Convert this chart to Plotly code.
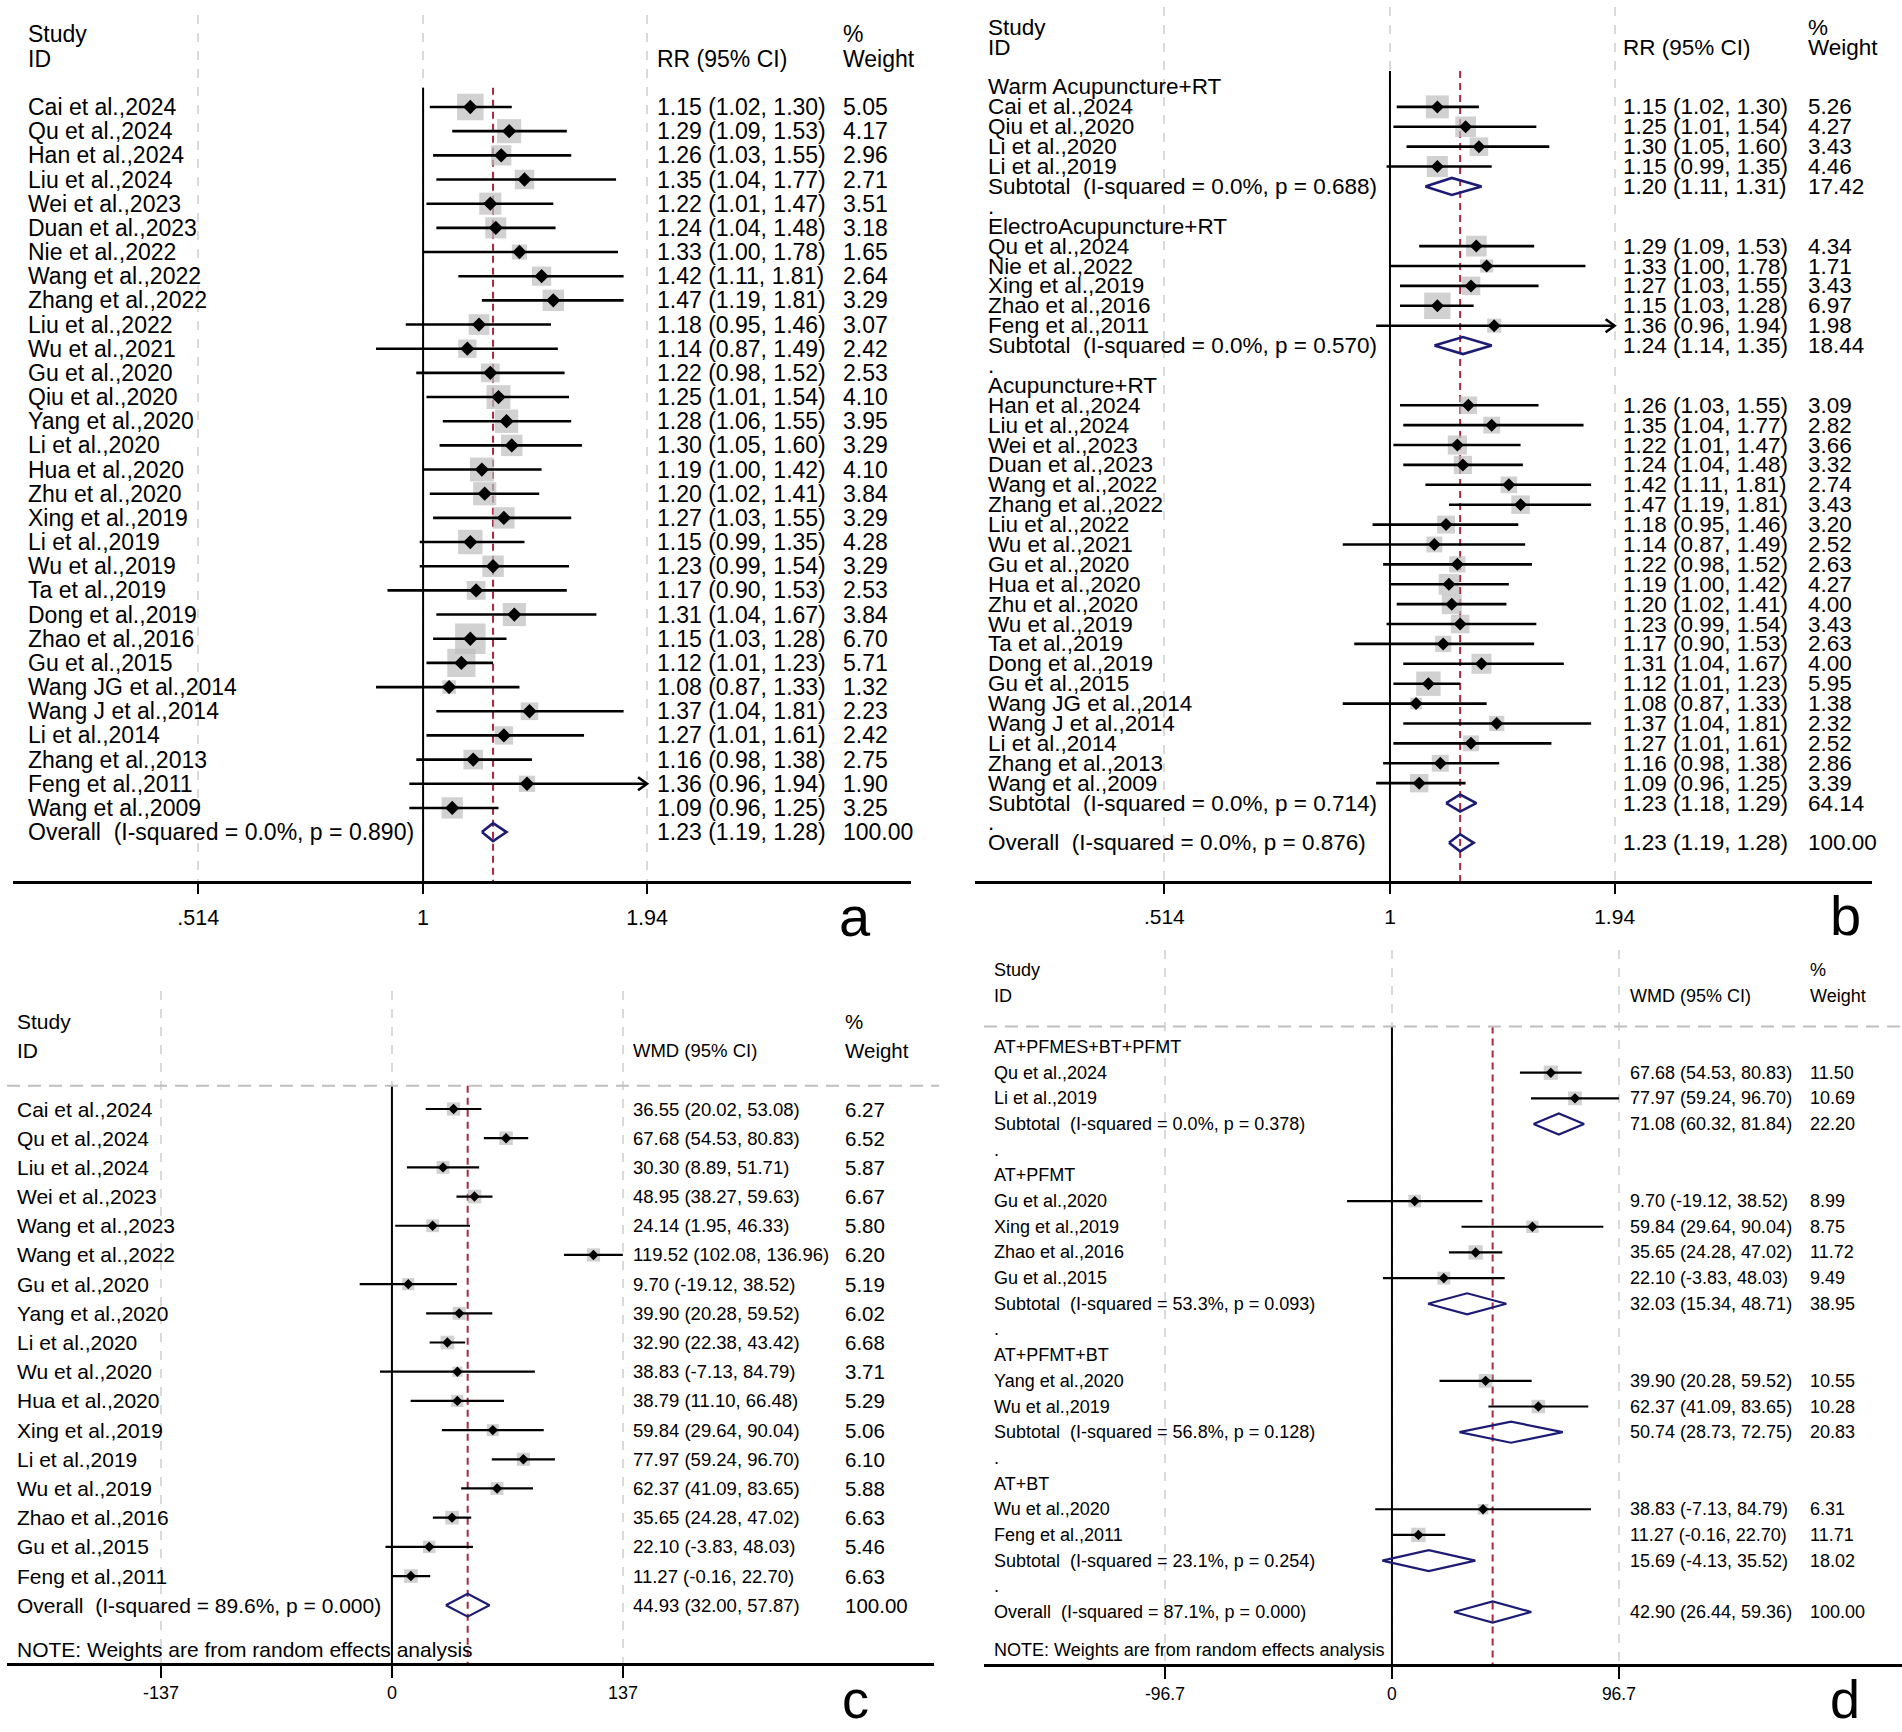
import numpy as np
import plotly.graph_objects as go

FONT = "Liberation Sans, Arial, Helvetica, sans-serif"
W, H = 1902, 1732
BOX = "#bdbdbd"
NAVY = "#1c1c74"
RED = "#a8283c"
GRID = "#dadada"

# ---- a: all trials, response rate (RR) ----
a_names = ["Cai et al.,2024", "Qu et al.,2024", "Han et al.,2024", "Liu et al.,2024",
           "Wei et al.,2023", "Duan et al.,2023", "Nie et al.,2022", "Wang et al.,2022",
           "Zhang et al.,2022", "Liu et al.,2022", "Wu et al.,2021", "Gu et al.,2020",
           "Qiu et al.,2020", "Yang et al.,2020", "Li et al.,2020", "Hua et al.,2020",
           "Zhu et al.,2020", "Xing et al.,2019", "Li et al.,2019", "Wu et al.,2019",
           "Ta et al.,2019", "Dong et al.,2019", "Zhao et al.,2016", "Gu et al.,2015",
           "Wang JG et al.,2014", "Wang J et al.,2014", "Li et al.,2014", "Zhang et al.,2013",
           "Feng et al.,2011", "Wang et al.,2009"]
a_rr = [1.15, 1.29, 1.26, 1.35, 1.22, 1.24, 1.33, 1.42, 1.47, 1.18, 1.14, 1.22, 1.25, 1.28, 1.30,
        1.19, 1.20, 1.27, 1.15, 1.23, 1.17, 1.31, 1.15, 1.12, 1.08, 1.37, 1.27, 1.16, 1.36, 1.09]
a_lo = [1.02, 1.09, 1.03, 1.04, 1.01, 1.04, 1.00, 1.11, 1.19, 0.95, 0.87, 0.98, 1.01, 1.06, 1.05,
        1.00, 1.02, 1.03, 0.99, 0.99, 0.90, 1.04, 1.03, 1.01, 0.87, 1.04, 1.01, 0.98, 0.96, 0.96]
a_hi = [1.30, 1.53, 1.55, 1.77, 1.47, 1.48, 1.78, 1.81, 1.81, 1.46, 1.49, 1.52, 1.54, 1.55, 1.60,
        1.42, 1.41, 1.55, 1.35, 1.54, 1.53, 1.67, 1.28, 1.23, 1.33, 1.81, 1.61, 1.38, 1.94, 1.25]
a_wt = [5.05, 4.17, 2.96, 2.71, 3.51, 3.18, 1.65, 2.64, 3.29, 3.07, 2.42, 2.53, 4.10, 3.95, 3.29,
        4.10, 3.84, 3.29, 4.28, 3.29, 2.53, 3.84, 6.70, 5.71, 1.32, 2.23, 2.42, 2.75, 1.90, 3.25]
a_overall = [1.23, 1.19, 1.28, 100.00]
a_overall_het = "0.0%, p = 0.890"

# ---- b: RR by acupuncture type ----
b_groups = ["Warm Acupuncture+RT", "ElectroAcupuncture+RT", "Acupuncture+RT"]
b_names = [
    ["Cai et al.,2024", "Qiu et al.,2020", "Li et al.,2020", "Li et al.,2019"],
    ["Qu et al.,2024", "Nie et al.,2022", "Xing et al.,2019", "Zhao et al.,2016", "Feng et al.,2011"],
    ["Han et al.,2024", "Liu et al.,2024", "Wei et al.,2023", "Duan et al.,2023", "Wang et al.,2022",
     "Zhang et al.,2022", "Liu et al.,2022", "Wu et al.,2021", "Gu et al.,2020", "Hua et al.,2020",
     "Zhu et al.,2020", "Wu et al.,2019", "Ta et al.,2019", "Dong et al.,2019", "Gu et al.,2015",
     "Wang JG et al.,2014", "Wang J et al.,2014", "Li et al.,2014", "Zhang et al.,2013",
     "Wang et al.,2009"],
]
b_rr = [[1.15, 1.25, 1.30, 1.15],
        [1.29, 1.33, 1.27, 1.15, 1.36],
        [1.26, 1.35, 1.22, 1.24, 1.42, 1.47, 1.18, 1.14, 1.22, 1.19,
         1.20, 1.23, 1.17, 1.31, 1.12, 1.08, 1.37, 1.27, 1.16, 1.09]]
b_lo = [[1.02, 1.01, 1.05, 0.99],
        [1.09, 1.00, 1.03, 1.03, 0.96],
        [1.03, 1.04, 1.01, 1.04, 1.11, 1.19, 0.95, 0.87, 0.98, 1.00,
         1.02, 0.99, 0.90, 1.04, 1.01, 0.87, 1.04, 1.01, 0.98, 0.96]]
b_hi = [[1.30, 1.54, 1.60, 1.35],
        [1.53, 1.78, 1.55, 1.28, 1.94],
        [1.55, 1.77, 1.47, 1.48, 1.81, 1.81, 1.46, 1.49, 1.52, 1.42,
         1.41, 1.54, 1.53, 1.67, 1.23, 1.33, 1.81, 1.61, 1.38, 1.25]]
b_wt = [[5.26, 4.27, 3.43, 4.46],
        [4.34, 1.71, 3.43, 6.97, 1.98],
        [3.09, 2.82, 3.66, 3.32, 2.74, 3.43, 3.20, 2.52, 2.63, 4.27,
         4.00, 3.43, 2.63, 4.00, 5.95, 1.38, 2.32, 2.52, 2.86, 3.39]]
b_sub_het = ["0.0%, p = 0.688", "0.0%, p = 0.570", "0.0%, p = 0.714"]
b_sub = [[1.20, 1.11, 1.31, 17.42], [1.24, 1.14, 1.35, 18.44], [1.23, 1.18, 1.29, 64.14]]
b_overall = [1.23, 1.19, 1.28, 100.00]
b_overall_het = "0.0%, p = 0.876"

# ---- c: all trials, WMD ----
c_names = ["Cai et al.,2024", "Qu et al.,2024", "Liu et al.,2024", "Wei et al.,2023",
           "Wang et al.,2023", "Wang et al.,2022", "Gu et al.,2020", "Yang et al.,2020",
           "Li et al.,2020", "Wu et al.,2020", "Hua et al.,2020", "Xing et al.,2019",
           "Li et al.,2019", "Wu et al.,2019", "Zhao et al.,2016", "Gu et al.,2015",
           "Feng et al.,2011"]
c_wmd = [36.55, 67.68, 30.30, 48.95, 24.14, 119.52, 9.70, 39.90, 32.90, 38.83, 38.79, 59.84,
         77.97, 62.37, 35.65, 22.10, 11.27]
c_lo = [20.02, 54.53, 8.89, 38.27, 1.95, 102.08, -19.12, 20.28, 22.38, -7.13, 11.10, 29.64,
        59.24, 41.09, 24.28, -3.83, -0.16]
c_hi = [53.08, 80.83, 51.71, 59.63, 46.33, 136.96, 38.52, 59.52, 43.42, 84.79, 66.48, 90.04,
        96.70, 83.65, 47.02, 48.03, 22.70]
c_wt = [6.27, 6.52, 5.87, 6.67, 5.80, 6.20, 5.19, 6.02, 6.68, 3.71, 5.29, 5.06, 6.10, 5.88,
        6.63, 5.46, 6.63]
c_overall = [44.93, 32.00, 57.87, 100.00]
c_overall_het = "89.6%, p = 0.000"

# ---- d: WMD by combined therapy ----
d_groups = ["AT+PFMES+BT+PFMT", "AT+PFMT", "AT+PFMT+BT", "AT+BT"]
d_names = [["Qu et al.,2024", "Li et al.,2019"],
           ["Gu et al.,2020", "Xing et al.,2019", "Zhao et al.,2016", "Gu et al.,2015"],
           ["Yang et al.,2020", "Wu et al.,2019"],
           ["Wu et al.,2020", "Feng et al.,2011"]]
d_wmd = [[67.68, 77.97], [9.70, 59.84, 35.65, 22.10], [39.90, 62.37], [38.83, 11.27]]
d_lo = [[54.53, 59.24], [-19.12, 29.64, 24.28, -3.83], [20.28, 41.09], [-7.13, -0.16]]
d_hi = [[80.83, 96.70], [38.52, 90.04, 47.02, 48.03], [59.52, 83.65], [84.79, 22.70]]
d_wt = [[11.50, 10.69], [8.99, 8.75, 11.72, 9.49], [10.55, 10.28], [6.31, 11.71]]
d_sub_het = ["0.0%, p = 0.378", "53.3%, p = 0.093", "56.8%, p = 0.128", "23.1%, p = 0.254"]
d_sub = [[71.08, 60.32, 81.84, 22.20], [32.03, 15.34, 48.71, 38.95],
         [50.74, 28.73, 72.75, 20.83], [15.69, -4.13, 35.52, 18.02]]
d_overall = [42.90, 26.44, 59.36, 100.00]
d_overall_het = "87.1%, p = 0.000"


def study_rows(names, est, lo, hi, wt):
    return [dict(kind="study", label=n, est=e, lo=l, hi=h, wt=w)
            for n, e, l, h, w in zip(names, est, lo, hi, wt)]


def pooled_row(label, vals):
    e, l, h, w = vals
    return dict(kind="pooled", label=label, est=e, lo=l, hi=h, wt=w)


def grouped_rows(groups, names, est, lo, hi, wt, het, sub):
    rows = []
    for k, g in enumerate(groups):
        rows.append(dict(kind="head", label=g))
        rows += study_rows(names[k], est[k], lo[k], hi[k], wt[k])
        rows.append(pooled_row(f"Subtotal  (I-squared = {het[k]})", sub[k]))
        rows.append(dict(kind="head", label="."))
    return rows


rows_a = study_rows(a_names, a_rr, a_lo, a_hi, a_wt)
rows_a.append(pooled_row(f"Overall  (I-squared = {a_overall_het})", a_overall))
rows_b = grouped_rows(b_groups, b_names, b_rr, b_lo, b_hi, b_wt, b_sub_het, b_sub)
rows_b.append(pooled_row(f"Overall  (I-squared = {b_overall_het})", b_overall))
rows_c = study_rows(c_names, c_wmd, c_lo, c_hi, c_wt)
rows_c.append(pooled_row(f"Overall  (I-squared = {c_overall_het})", c_overall))
rows_d = grouped_rows(d_groups, d_names, d_wmd, d_lo, d_hi, d_wt, d_sub_het, d_sub)
rows_d.append(pooled_row(f"Overall  (I-squared = {d_overall_het})", d_overall))

# layout of each panel in pixels of the 1902x1732 page
panels = [
    dict(rows=rows_a, n="", letter="a", log=True, null=1, xspan=(13, 911), xrange=[-0.527, 0.627],
         ypx=(15, 881, 107, 24.17), tickvals=[0.514, 1, 1.94], ticktext=[".514", "1", "1.94"],
         cols=(27, 656, 842), fs=(23, 23, 23), tick_fs=21.5, ticklen=10, standoff=5,
         effect="RR (95% CI)", box_k=11.8, pt=11, lw=2.6, dh=0.37, clip=1.94,
         sep=False, note=False, letter_xy=(855, 916), letter_fs=56),
    dict(rows=rows_b, n="2", letter="b", log=True, null=1, xspan=(975, 1872), xrange=[-0.5316, 0.6175],
         ypx=(7, 881, 87, 19.89), tickvals=[0.514, 1, 1.94], ticktext=[".514", "1", "1.94"],
         cols=(987, 1622, 1807), fs=(22.5, 22.5, 22.5), tick_fs=21, ticklen=10, standoff=5,
         effect="RR (95% CI)", box_k=10.0, pt=10, lw=2.6, dh=0.43, clip=1.94,
         sep=False, note=False, letter_xy=(1845, 915), letter_fs=56),
    dict(rows=rows_c, n="3", letter="c", log=False, null=0, xspan=(7, 934), xrange=[-228.3, 321.5],
         ypx=(991, 1663, 1109, 29.19), tickvals=[-137, 0, 137], ticktext=["-137", "0", "137"],
         cols=(16, 632, 844), fs=(21, 18.5, 20.5), tick_fs=18, ticklen=12, standoff=0,
         effect="WMD (95% CI)", box_k=5.3, pt=8, lw=2.2, dh=0.39, clip=None,
         sep=(7, 939), note=True, letter_xy=(855, 1699), letter_fs=54),
    dict(rows=rows_d, n="4", letter="d", log=False, null=0, xspan=(984, 1902), xrange=[-173.8, 217.3],
         ypx=(950, 1664, 1047, 25.68), tickvals=[-96.7, 0, 96.7], ticktext=["-96.7", "0", "96.7"],
         cols=(993, 1629, 1809), fs=(18, 18, 18), tick_fs=17.5, ticklen=12, standoff=0,
         effect="WMD (95% CI)", box_k=4.2, pt=8, lw=2.2, dh=0.41, clip=None,
         sep=(984, 1902), note=True, letter_xy=(1845, 1699), letter_fs=54),
]

fig = go.Figure()
annotations = []
shapes = []


def text(x_px, row, s, size, yref):
    annotations.append(dict(x=x_px / W, xref="paper", y=row, yref=yref, text=s, showarrow=False,
                            xanchor="left", yanchor="middle", borderpad=0,
                            font=dict(size=size, color="black", family=FONT)))


for p in panels:
    xa, ya = "x" + p["n"], "y" + p["n"]
    rows = p["rows"]
    top_px, axis_px, row0_px, pitch = p["ypx"]
    y_bottom = (axis_px - row0_px) / pitch
    y_top = (top_px - row0_px) / pitch
    line_top = -0.8

    studies = [(i, r) for i, r in enumerate(rows) if r["kind"] == "study"]
    pooled = [(i, r) for i, r in enumerate(rows) if r["kind"] == "pooled"]
    overall = rows[-1]

    common = dict(xaxis=xa, yaxis=ya, hoverinfo="skip", showlegend=False)

    # null line and pooled-estimate line
    fig.add_trace(go.Scatter(x=[p["null"], p["null"]], y=[line_top, y_bottom], mode="lines",
                             line=dict(color="black", width=2), **common))
    fig.add_trace(go.Scatter(x=[overall["est"], overall["est"]], y=[line_top, y_bottom], mode="lines",
                             line=dict(color=RED, width=2, dash="7px,5px"), **common))

    # weight boxes
    fig.add_trace(go.Scatter(
        x=[r["est"] for _, r in studies], y=[i for i, _ in studies], mode="markers",
        marker=dict(symbol="square", color=BOX, line_width=0,
                    size=[p["box_k"] * np.sqrt(r["wt"]) for _, r in studies]), **common))

    # confidence intervals
    cx, cy = [], []
    for i, r in studies:
        cx += [r["lo"], r["hi"], None]
        cy += [i, i, None]
    fig.add_trace(go.Scatter(x=cx, y=cy, mode="lines", line=dict(color="black", width=p["lw"]),
                             **common))

    # arrow heads where the interval reaches the axis limit
    if p["clip"] is not None:
        ah = 6.5 / pitch
        for i, r in studies:
            if r["hi"] >= p["clip"]:
                back = r["hi"] * np.exp(-9 / 338)
                fig.add_trace(go.Scatter(x=[back, r["hi"], back], y=[i - ah, i, i + ah], mode="lines",
                                         line=dict(color="black", width=p["lw"]), **common))

    # point estimates
    fig.add_trace(go.Scatter(
        x=[r["est"] for _, r in studies], y=[i for i, _ in studies], mode="markers",
        marker=dict(symbol="diamond", color="black", size=p["pt"], line_width=0), **common))

    # pooled diamonds
    for i, r in pooled:
        fig.add_trace(go.Scatter(
            x=[r["lo"], r["est"], r["hi"], r["est"], r["lo"]],
            y=[i, i - p["dh"], i, i + p["dh"], i], mode="lines",
            line=dict(color=NAVY, width=p["lw"]), **common))

    # text columns
    c_name, c_eff, c_wt = p["cols"]
    f_name, f_eff, f_wt = p["fs"]
    text(c_name, -3, "Study", f_name, ya)
    text(c_name, -2, "ID", f_name, ya)
    text(c_eff, -2, p["effect"], f_eff, ya)
    text(c_wt, -3, "%", f_wt, ya)
    text(c_wt, -2, "Weight", f_wt, ya)
    for i, r in enumerate(rows):
        text(c_name, i, r["label"], f_name, ya)
        if r["kind"] != "head":
            text(c_eff, i, f"{r['est']:.2f} ({r['lo']:.2f}, {r['hi']:.2f})", f_eff, ya)
            text(c_wt, i, f"{r['wt']:.2f}", f_wt, ya)
    if p["note"]:
        text(c_name, len(rows) + 0.5, "NOTE: Weights are from random effects analysis", f_name, ya)

    if p["sep"]:
        shapes.append(dict(type="line", xref="paper", yref=ya, x0=p["sep"][0] / W, x1=p["sep"][1] / W,
                           y0=line_top, y1=line_top, line=dict(color="#bfbfbf", width=2, dash="13px,8px")))

    lx, ly = p["letter_xy"]
    annotations.append(dict(x=lx / W, y=1 - ly / H, xref="paper", yref="paper", text=p["letter"],
                            showarrow=False, xanchor="center", yanchor="middle", borderpad=0,
                            font=dict(size=p["letter_fs"], color="black", family=FONT)))

    x0, x1 = p["xspan"]
    fig.layout["xaxis" + p["n"]] = dict(
        domain=[x0 / W, x1 / W], range=p["xrange"], type="log" if p["log"] else "linear",
        anchor=ya, tickmode="array", tickvals=p["tickvals"], ticktext=p["ticktext"],
        ticks="outside", ticklen=p["ticklen"], tickwidth=2, tickcolor="black",
        showline=True, linecolor="black", linewidth=2.5, zeroline=False,
        showgrid=True, gridcolor=GRID, griddash="dash", gridwidth=2,
        tickfont=dict(size=p["tick_fs"], family=FONT, color="black"),
        ticklabelstandoff=p["standoff"], fixedrange=True)
    fig.layout["yaxis" + p["n"]] = dict(
        domain=[1 - axis_px / H, 1 - top_px / H], range=[y_bottom, y_top], anchor=xa,
        visible=False, showgrid=False, zeroline=False, fixedrange=True)

fig.update_layout(
    width=W, height=H, margin=dict(l=0, r=0, t=0, b=0),
    paper_bgcolor="white", plot_bgcolor="rgba(0,0,0,0)", showlegend=False,
    annotations=annotations, shapes=shapes,
    font=dict(family=FONT, color="black"),
)

fig.write_html("out.html", config={"displayModeBar": False},
               post_script="document.body.style.margin='0';")
